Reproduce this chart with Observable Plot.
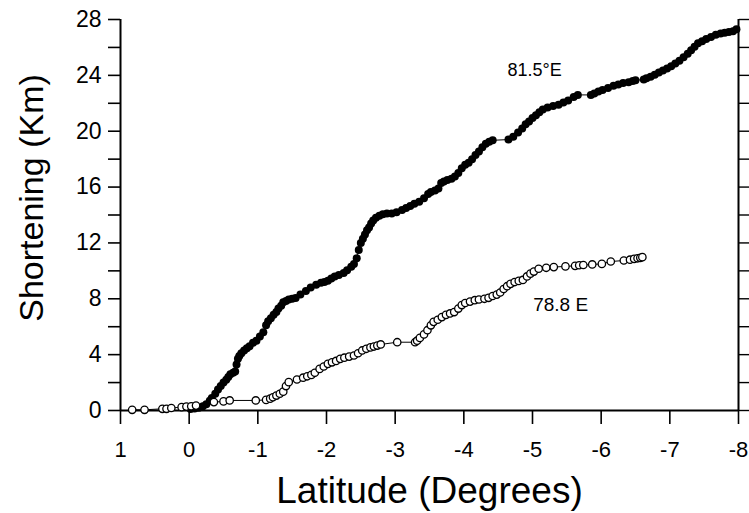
<!DOCTYPE html>
<html>
<head>
<meta charset="utf-8">
<script src="https://cdn.jsdelivr.net/npm/d3@7"></script>
<script src="https://cdn.jsdelivr.net/npm/@observablehq/plot@0.6"></script>
<style>
  html, body { margin: 0; padding: 0; background: #fff; }
  #chart { width: 749px; height: 513px; }
</style>
</head>
<body>
<div id="chart"></div>
<script>
// Series 81.5°E (filled dots): [latitude, shortening km]
const east815 = [[-0.02,0.1],[-0.08,0.15],[-0.14,0.2],[-0.2,0.3],[-0.25,0.45],[-0.3,0.7],[-0.33,0.9],[-0.38,1.2],[-0.42,1.5],[-0.46,1.75],[-0.5,2.0],[-0.54,2.2],[-0.57,2.4],[-0.6,2.6],[-0.64,2.7],[-0.67,2.8],[-0.69,3.3],[-0.71,3.7],[-0.73,3.9],[-0.76,4.1],[-0.8,4.3],[-0.84,4.45],[-0.88,4.6],[-0.93,4.85],[-0.98,5.0],[-1.03,5.3],[-1.08,5.6],[-1.12,6.1],[-1.15,6.4],[-1.19,6.6],[-1.23,6.85],[-1.27,7.05],[-1.3,7.3],[-1.34,7.5],[-1.37,7.75],[-1.41,7.85],[-1.45,7.95],[-1.5,8.0],[-1.55,8.05],[-1.62,8.3],[-1.7,8.55],[-1.77,8.8],[-1.85,9.0],[-1.92,9.15],[-1.97,9.2],[-2.02,9.3],[-2.07,9.45],[-2.12,9.6],[-2.18,9.7],[-2.25,9.85],[-2.3,10.05],[-2.36,10.3],[-2.4,10.5],[-2.44,10.9],[-2.47,11.5],[-2.5,12.0],[-2.53,12.3],[-2.56,12.6],[-2.59,12.9],[-2.62,13.1],[-2.65,13.4],[-2.68,13.6],[-2.72,13.8],[-2.77,13.95],[-2.82,14.05],[-2.88,14.1],[-2.95,14.1],[-3.02,14.2],[-3.1,14.35],[-3.16,14.5],[-3.22,14.65],[-3.28,14.8],[-3.35,14.95],[-3.42,15.2],[-3.48,15.5],[-3.52,15.65],[-3.58,15.75],[-3.63,15.9],[-3.67,16.3],[-3.71,16.4],[-3.76,16.5],[-3.82,16.6],[-3.87,16.75],[-3.92,17.0],[-3.97,17.35],[-4.02,17.6],[-4.07,17.75],[-4.12,18.0],[-4.17,18.3],[-4.22,18.55],[-4.27,18.85],[-4.32,19.1],[-4.37,19.25],[-4.42,19.35],[-4.65,19.4],[-4.72,19.6],[-4.79,19.9],[-4.85,20.2],[-4.9,20.5],[-4.95,20.7],[-5.0,20.95],[-5.05,21.15],[-5.1,21.35],[-5.15,21.55],[-5.22,21.7],[-5.3,21.8],[-5.38,21.9],[-5.45,22.05],[-5.52,22.2],[-5.6,22.45],[-5.66,22.6],[-5.85,22.6],[-5.9,22.7],[-5.96,22.85],[-6.02,22.95],[-6.1,23.1],[-6.18,23.25],[-6.25,23.35],[-6.32,23.45],[-6.4,23.5],[-6.46,23.6],[-6.5,23.65],[-6.62,23.7],[-6.66,23.8],[-6.72,23.9],[-6.78,24.05],[-6.84,24.2],[-6.9,24.35],[-6.96,24.5],[-7.02,24.65],[-7.08,24.85],[-7.14,25.05],[-7.2,25.3],[-7.26,25.55],[-7.31,25.8],[-7.36,26.05],[-7.41,26.3],[-7.47,26.45],[-7.53,26.6],[-7.6,26.75],[-7.67,26.9],[-7.74,27.0],[-7.8,27.05],[-7.86,27.1],[-7.92,27.15],[-7.97,27.3]];

// Series 78.8 E (open circles): [latitude, shortening km]
const east788 = [[0.83,0.05],[0.65,0.05],[0.39,0.12],[0.33,0.12],[0.26,0.18],[0.11,0.24],[0.04,0.28],[-0.03,0.3],[-0.1,0.35],[-0.36,0.6],[-0.5,0.65],[-0.59,0.72],[-0.97,0.72],[-1.12,0.76],[-1.18,0.85],[-1.22,0.95],[-1.27,1.07],[-1.32,1.2],[-1.37,1.35],[-1.41,1.75],[-1.45,2.03],[-1.57,2.22],[-1.66,2.35],[-1.72,2.45],[-1.78,2.55],[-1.83,2.7],[-1.9,2.98],[-1.96,3.15],[-2.02,3.34],[-2.08,3.45],[-2.14,3.55],[-2.2,3.7],[-2.26,3.78],[-2.33,3.86],[-2.4,3.94],[-2.46,4.1],[-2.52,4.3],[-2.58,4.42],[-2.64,4.52],[-2.69,4.58],[-2.74,4.65],[-2.79,4.73],[-3.03,4.89],[-3.29,4.89],[-3.32,5.0],[-3.36,5.2],[-3.42,5.45],[-3.47,5.75],[-3.52,6.1],[-3.56,6.35],[-3.62,6.5],[-3.68,6.69],[-3.74,6.85],[-3.8,6.95],[-3.86,7.05],[-3.92,7.3],[-3.97,7.55],[-4.02,7.7],[-4.09,7.8],[-4.16,7.9],[-4.22,7.95],[-4.3,8.0],[-4.36,8.07],[-4.42,8.2],[-4.48,8.3],[-4.53,8.45],[-4.58,8.7],[-4.63,8.9],[-4.68,9.07],[-4.74,9.2],[-4.8,9.28],[-4.86,9.35],[-4.92,9.6],[-4.97,9.8],[-5.02,9.95],[-5.09,10.15],[-5.2,10.22],[-5.31,10.27],[-5.48,10.32],[-5.62,10.36],[-5.68,10.4],[-5.74,10.42],[-5.87,10.46],[-6.01,10.5],[-6.14,10.67],[-6.33,10.74],[-6.42,10.8],[-6.48,10.86],[-6.53,10.9],[-6.57,10.93],[-6.6,10.98]];

// Series labels placed near curves: [text, latitude, shortening]
const seriesLabels = [["81.5°E", -5.03, 24.4], ["78.8 E", -5.41, 7.55]];
const labelSizes = [18, 19];

// Tick values
const xTicks = [1, 0, -1, -2, -3, -4, -5, -6, -7, -8];
const yTicks = [0, 2, 4, 6, 8, 10, 12, 14, 16, 18, 20, 22, 24, 26, 28];
const yLabelEvery = 4;

const xTitle = "Latitude (Degrees)";
const yTitle = "Shortening (Km)";

const font = "'Liberation Sans', Arial, Helvetica, sans-serif";

const chart = Plot.plot({
  width: 749,
  height: 513,
  marginLeft: 120,
  marginRight: 11,
  marginTop: 19,
  marginBottom: 103,
  style: { fontFamily: font, color: "#000", background: "#fff", overflow: "visible" },
  x: { domain: [1, -8] },
  y: { domain: [0, 28] },
  marks: [
    Plot.axisY({ ticks: yTicks, tickFormat: d => (d % yLabelEvery === 0 ? String(d) : ""), tickSize: 12, tickPadding: 7, fontSize: 23, strokeWidth: 1.6, label: null }),
    Plot.axisY({ anchor: "right", ticks: yTicks, tickFormat: () => "", tickSize: 11, strokeWidth: 1.4, label: null }),
    Plot.axisX({ ticks: xTicks, tickFormat: d => String(d), tickSize: 14, tickPadding: 17, fontSize: 22, strokeWidth: 1.6, label: null }),
    Plot.ruleX([1], { stroke: "#000", strokeWidth: 2 }),
    Plot.ruleX([-8], { stroke: "#000", strokeWidth: 2 }),
    Plot.ruleY([0], { stroke: "#000", strokeWidth: 2 }),
    Plot.line(east788, { x: d => d[0], y: d => d[1], stroke: "#000", strokeWidth: 1 }),
    Plot.line(east815, { x: d => d[0], y: d => d[1], stroke: "#000", strokeWidth: 1 }),
    Plot.dot(east815, { x: d => d[0], y: d => d[1], r: 4, fill: "#000", stroke: "none" }),
    Plot.dot(east788, { x: d => d[0], y: d => d[1], r: 3.7, fill: "#fff", stroke: "#000", strokeWidth: 1.3 }),
    Plot.text([seriesLabels[0]], { x: d => d[1], y: d => d[2], text: d => d[0], fontSize: labelSizes[0], fill: "#000" }),
    Plot.text([seriesLabels[1]], { x: d => d[1], y: d => d[2], text: d => d[0], fontSize: labelSizes[1], fill: "#000" }),
    Plot.text([xTitle], { frameAnchor: "bottom", dy: 92, fontSize: 37, fill: "#000" }),
    Plot.text([yTitle], { frameAnchor: "left", textAnchor: "middle", lineAnchor: "middle", dx: -88, dy: -17, rotate: -90, fontSize: 34, fill: "#000" })
  ]
});
document.getElementById("chart").appendChild(chart);
</script>
</body>
</html>
